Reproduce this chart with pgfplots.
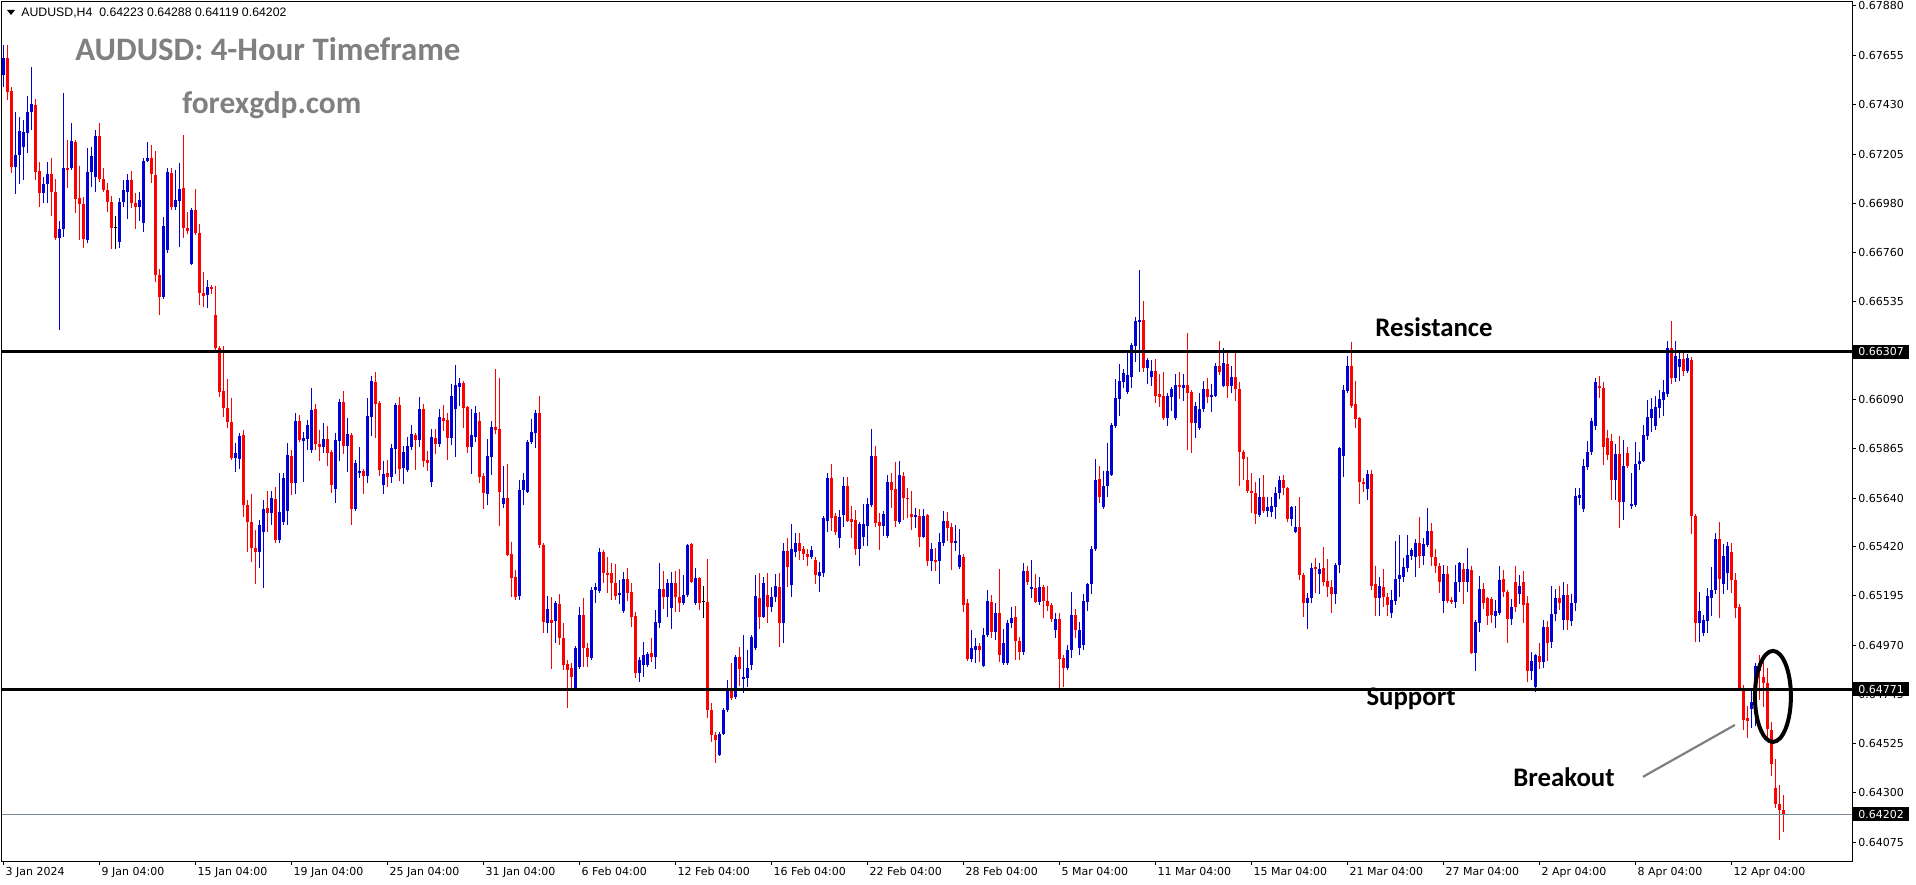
\documentclass[border=0pt]{standalone}
\usepackage{pgfplots}
\pgfplotsset{compat=1.18}
\usepackage{pgfplotstable}
\usepackage{fontspec}
\setmainfont{Liberation Sans}
\newfontfamily\mtfont{DejaVu Sans}
\newfontfamily\calfont{Carlito}
\definecolor{cBlue}{RGB}{0,0,215}
\definecolor{cRed}{RGB}{255,0,0}
\definecolor{tGray}{RGB}{128,128,128}
\definecolor{pGray}{RGB}{125,138,150}

\pgfplotstableread{
i o h l c
0 0.67566 0.67702 0.67511 0.67644
3 0.67147 0.67398 0.67025 0.67202
4 0.67202 0.67375 0.67070 0.67311
5 0.67238 0.67361 0.67088 0.67307
6 0.67302 0.67471 0.67211 0.67398
7 0.67398 0.67602 0.67316 0.67434
10 0.67029 0.67102 0.66983 0.67070
11 0.67070 0.67170 0.66983 0.67116
14 0.66824 0.66902 0.66406 0.66865
15 0.66865 0.67484 0.66829 0.67143
17 0.67143 0.67347 0.67134 0.67265
21 0.66815 0.67234 0.66801 0.67125
22 0.67125 0.67238 0.67056 0.67197
23 0.67102 0.67316 0.67034 0.67288
29 0.66806 0.67007 0.66779 0.66988
30 0.66988 0.67088 0.66965 0.67043
31 0.67034 0.67116 0.66911 0.67088
34 0.66965 0.67034 0.66902 0.66997
35 0.66892 0.67188 0.66852 0.67174
36 0.67174 0.67261 0.67170 0.67188
40 0.66556 0.66920 0.66547 0.66879
41 0.66770 0.67143 0.66756 0.67125
43 0.66965 0.67134 0.66952 0.66997
44 0.66992 0.67165 0.66783 0.67047
47 0.66706 0.66961 0.66701 0.66952
51 0.66565 0.66633 0.66506 0.66601
58 0.65823 0.65891 0.65760 0.65846
59 0.65819 0.65937 0.65773 0.65923
64 0.65396 0.65541 0.65323 0.65518
65 0.65487 0.65632 0.65232 0.65591
67 0.65573 0.65673 0.65518 0.65641
69 0.65450 0.65755 0.65436 0.65578
70 0.65532 0.65755 0.65518 0.65732
71 0.65582 0.65891 0.65518 0.65837
73 0.65710 0.66028 0.65660 0.65991
75 0.65900 0.65942 0.65714 0.65915
76 0.65910 0.65996 0.65860 0.65973
77 0.65860 0.66142 0.65846 0.66042
80 0.65873 0.65982 0.65846 0.65910
83 0.65682 0.65937 0.65618 0.65905
84 0.65900 0.66092 0.65809 0.66078
86 0.65878 0.66005 0.65760 0.65933
88 0.65591 0.65814 0.65582 0.65800
89 0.65755 0.65873 0.65732 0.65764
91 0.65741 0.66096 0.65710 0.66015
92 0.66010 0.66197 0.65924 0.66173
95 0.65700 0.65809 0.65660 0.65751
97 0.65737 0.65887 0.65709 0.65869
98 0.65864 0.66073 0.65751 0.66064
100 0.65778 0.65878 0.65705 0.65851
101 0.65769 0.65919 0.65760 0.65878
102 0.65873 0.65973 0.65860 0.65933
104 0.65905 0.66101 0.65873 0.66046
107 0.65714 0.65955 0.65691 0.65919
109 0.65887 0.66046 0.65873 0.66010
112 0.65915 0.66160 0.65882 0.66106
113 0.66046 0.66246 0.65828 0.66155
114 0.66146 0.66187 0.66060 0.66164
117 0.65873 0.66046 0.65751 0.65928
118 0.65919 0.66060 0.65896 0.66028
121 0.65660 0.65910 0.65609 0.65833
122 0.65828 0.65991 0.65746 0.65964
125 0.65614 0.65787 0.65596 0.65641
129 0.65196 0.65723 0.65177 0.65678
130 0.65678 0.65755 0.65609 0.65723
131 0.65669 0.65905 0.65664 0.65896
132 0.65896 0.66001 0.65887 0.65942
133 0.65937 0.66042 0.65869 0.66028
136 0.65072 0.65196 0.65027 0.65136
138 0.65081 0.65173 0.64981 0.65163
143 0.64777 0.64968 0.64768 0.64959
144 0.64872 0.65145 0.64863 0.65109
147 0.64913 0.65236 0.64904 0.65223
148 0.65223 0.65254 0.65163 0.65236
149 0.65218 0.65414 0.65209 0.65396
154 0.65200 0.65268 0.65159 0.65209
155 0.65127 0.65305 0.65118 0.65273
159 0.64845 0.64918 0.64804 0.64904
160 0.64881 0.64986 0.64827 0.64927
161 0.64881 0.64941 0.64872 0.64932
163 0.64918 0.65132 0.64863 0.65077
164 0.65072 0.65345 0.65050 0.65227
166 0.65191 0.65273 0.65100 0.65254
167 0.65141 0.65305 0.65045 0.65254
170 0.65163 0.65291 0.65154 0.65200
171 0.65200 0.65432 0.65191 0.65428
173 0.65163 0.65323 0.65154 0.65278
179 0.64472 0.64577 0.64467 0.64568
180 0.64568 0.64686 0.64563 0.64677
181 0.64677 0.64813 0.64668 0.64768
183 0.64736 0.64927 0.64727 0.64918
185 0.64818 0.65018 0.64754 0.64827
186 0.64823 0.64950 0.64781 0.64868
187 0.64881 0.65018 0.64859 0.65009
188 0.64959 0.65291 0.64950 0.65196
190 0.65100 0.65282 0.65095 0.65254
192 0.65145 0.65236 0.65123 0.65191
193 0.65191 0.65296 0.65168 0.65241
195 0.65072 0.65436 0.64981 0.65400
197 0.65245 0.65523 0.65191 0.65409
198 0.65396 0.65482 0.65373 0.65436
202 0.65373 0.65423 0.65364 0.65405
204 0.65287 0.65350 0.65214 0.65305
205 0.65300 0.65559 0.65282 0.65550
206 0.65536 0.65755 0.65487 0.65732
209 0.65459 0.65587 0.65414 0.65555
210 0.65564 0.65737 0.65509 0.65696
214 0.65409 0.65532 0.65332 0.65523
215 0.65464 0.65614 0.65423 0.65523
216 0.65514 0.65641 0.65423 0.65614
217 0.65609 0.65955 0.65600 0.65833
220 0.65514 0.65582 0.65469 0.65569
221 0.65469 0.65746 0.65460 0.65714
224 0.65532 0.65809 0.65523 0.65746
228 0.65555 0.65596 0.65505 0.65564
230 0.65464 0.65591 0.65460 0.65559
232 0.65355 0.65436 0.65309 0.65409
234 0.65355 0.65482 0.65250 0.65441
235 0.65436 0.65582 0.65423 0.65536
238 0.65436 0.65518 0.65400 0.65445
239 0.65327 0.65500 0.65318 0.65382
242 0.64909 0.65041 0.64895 0.64959
243 0.64950 0.65004 0.64890 0.64968
245 0.64877 0.65050 0.64872 0.65018
246 0.65018 0.65223 0.65009 0.65172
248 0.65032 0.65163 0.64995 0.65118
250 0.64890 0.65045 0.64881 0.64981
251 0.64890 0.65086 0.64881 0.65072
252 0.65072 0.65145 0.65050 0.65095
255 0.64941 0.65345 0.64927 0.65309
257 0.65227 0.65359 0.65186 0.65236
259 0.65168 0.65282 0.65154 0.65236
263 0.65041 0.65118 0.65004 0.65091
266 0.64868 0.64972 0.64859 0.64950
267 0.64950 0.65214 0.64913 0.65109
269 0.64959 0.65077 0.64927 0.65041
270 0.64972 0.65205 0.64950 0.65172
271 0.65168 0.65254 0.65127 0.65250
272 0.65250 0.65423 0.65205 0.65409
273 0.65409 0.65819 0.65400 0.65723
275 0.65600 0.65764 0.65591 0.65696
276 0.65696 0.65891 0.65646 0.65764
277 0.65746 0.65982 0.65742 0.65973
278 0.65969 0.66183 0.65960 0.66096
279 0.66092 0.66251 0.66015 0.66173
280 0.66169 0.66228 0.66142 0.66210
281 0.66124 0.66301 0.66115 0.66201
282 0.66192 0.66346 0.66142 0.66337
283 0.66333 0.66465 0.66260 0.66446
284 0.66442 0.66679 0.66215 0.66451
286 0.66233 0.66278 0.66160 0.66269
287 0.66192 0.66269 0.66151 0.66219
291 0.66005 0.66119 0.65969 0.66106
292 0.66101 0.66146 0.66037 0.66137
293 0.66005 0.66206 0.65996 0.66155
295 0.66142 0.66206 0.66083 0.66155
298 0.65982 0.66078 0.65915 0.66060
299 0.65960 0.66119 0.65951 0.66046
300 0.66046 0.66173 0.66033 0.66137
302 0.66101 0.66160 0.66033 0.66110
303 0.66106 0.66255 0.66101 0.66242
305 0.66151 0.66324 0.66146 0.66255
307 0.66151 0.66242 0.66119 0.66192
314 0.65564 0.65732 0.65555 0.65646
316 0.65582 0.65646 0.65555 0.65600
317 0.65578 0.65646 0.65555 0.65605
318 0.65600 0.65691 0.65546 0.65664
319 0.65664 0.65742 0.65637 0.65723
322 0.65546 0.65605 0.65514 0.65600
323 0.65487 0.65605 0.65482 0.65509
326 0.65163 0.65209 0.65045 0.65186
327 0.65186 0.65345 0.65163 0.65323
329 0.65296 0.65345 0.65205 0.65318
333 0.65205 0.65345 0.65159 0.65336
334 0.65336 0.65873 0.65300 0.65869
335 0.65833 0.66155 0.65737 0.66133
336 0.66128 0.66287 0.66119 0.66242
341 0.65682 0.65769 0.65632 0.65751
344 0.65186 0.65282 0.65104 0.65241
347 0.65118 0.65223 0.65095 0.65177
348 0.65172 0.65445 0.65154 0.65273
349 0.65273 0.65473 0.65191 0.65291
350 0.65282 0.65368 0.65259 0.65327
351 0.65323 0.65473 0.65305 0.65382
352 0.65377 0.65414 0.65359 0.65405
353 0.65373 0.65455 0.65282 0.65436
355 0.65377 0.65459 0.65336 0.65432
356 0.65427 0.65596 0.65418 0.65491
360 0.65172 0.65336 0.65118 0.65296
363 0.65168 0.65336 0.65141 0.65259
364 0.65259 0.65350 0.65214 0.65345
366 0.65259 0.65414 0.65214 0.65318
368 0.64936 0.65086 0.64854 0.65077
369 0.65072 0.65287 0.65032 0.65227
373 0.65104 0.65177 0.65050 0.65127
374 0.65118 0.65332 0.65109 0.65268
377 0.65091 0.65182 0.65063 0.65145
379 0.65205 0.65291 0.65159 0.65241
382 0.64854 0.64941 0.64813 0.64899
383 0.64781 0.64931 0.64759 0.64927
385 0.64895 0.65086 0.64868 0.65054
387 0.64986 0.65241 0.64959 0.65114
388 0.65114 0.65227 0.65081 0.65186
390 0.65086 0.65259 0.65041 0.65200
392 0.65081 0.65205 0.65059 0.65163
393 0.65163 0.65687 0.65127 0.65650
394 0.65641 0.65687 0.65609 0.65655
395 0.65591 0.65819 0.65578 0.65787
396 0.65782 0.65900 0.65769 0.65851
397 0.65851 0.66005 0.65837 0.65991
398 0.65969 0.66187 0.65951 0.66169
403 0.65723 0.65887 0.65632 0.65842
405 0.65623 0.65905 0.65541 0.65787
407 0.65605 0.65755 0.65591 0.65614
408 0.65609 0.65896 0.65600 0.65796
409 0.65796 0.65851 0.65769 0.65809
410 0.65809 0.65973 0.65805 0.65928
411 0.65924 0.66087 0.65905 0.66010
412 0.66005 0.66096 0.65942 0.66046
413 0.65969 0.66106 0.65951 0.66055
414 0.66051 0.66133 0.66005 0.66092
415 0.66087 0.66178 0.66015 0.66124
416 0.66115 0.66356 0.66101 0.66324
418 0.66187 0.66356 0.66169 0.66288
419 0.66238 0.66306 0.66173 0.66274
421 0.66219 0.66297 0.66210 0.66278
424 0.65072 0.65214 0.64986 0.65127
425 0.65027 0.65109 0.65013 0.65086
426 0.65081 0.65232 0.65027 0.65196
427 0.65186 0.65327 0.65104 0.65223
428 0.65223 0.65482 0.65205 0.65455
430 0.65250 0.65432 0.65205 0.65377
431 0.65300 0.65441 0.65223 0.65423
437 0.64681 0.64768 0.64595 0.64713
438 0.64681 0.64890 0.64604 0.64877
}\upbars

\pgfplotstableread{
i o h l c
1 0.67644 0.67702 0.67452 0.67489
2 0.67493 0.67511 0.67120 0.67147
8 0.67429 0.67457 0.67088 0.67125
9 0.67129 0.67170 0.66965 0.67029
12 0.67116 0.67188 0.66924 0.67034
13 0.67034 0.67093 0.66815 0.66824
16 0.67143 0.67270 0.67052 0.67134
18 0.67261 0.67270 0.66938 0.67002
19 0.67007 0.67152 0.66815 0.66979
20 0.66979 0.67011 0.66779 0.66820
24 0.67288 0.67347 0.67079 0.67093
25 0.67093 0.67143 0.67034 0.67043
26 0.67043 0.67074 0.66943 0.66988
27 0.66988 0.67016 0.66774 0.66870
32 0.67088 0.67129 0.66961 0.66983
33 0.66983 0.67029 0.66865 0.66965
37 0.67188 0.67247 0.67074 0.67116
38 0.67111 0.67220 0.66624 0.66656
39 0.66656 0.66683 0.66474 0.66556
42 0.67120 0.67143 0.66952 0.66965
45 0.67052 0.67293 0.66824 0.66870
46 0.66870 0.66943 0.66843 0.66856
48 0.66952 0.67047 0.66838 0.66847
49 0.66847 0.66888 0.66519 0.66574
50 0.66574 0.66670 0.66510 0.66561
52 0.66601 0.66610 0.66570 0.66592
53 0.66474 0.66606 0.66315 0.66324
54 0.66324 0.66333 0.66101 0.66124
55 0.66128 0.66333 0.66010 0.66051
56 0.66051 0.66183 0.65960 0.65987
57 0.65987 0.66096 0.65814 0.65823
60 0.65928 0.65951 0.65555 0.65609
61 0.65609 0.65632 0.65396 0.65532
62 0.65532 0.65660 0.65350 0.65414
63 0.65414 0.65496 0.65250 0.65396
66 0.65596 0.65673 0.65487 0.65573
68 0.65637 0.65691 0.65436 0.65450
72 0.65833 0.65860 0.65655 0.65710
74 0.65991 0.66019 0.65896 0.65905
78 0.66046 0.66069 0.65860 0.65887
79 0.65887 0.65951 0.65809 0.65873
81 0.65910 0.65969 0.65787 0.65846
82 0.65851 0.65860 0.65664 0.65700
85 0.66078 0.66128 0.65842 0.65878
87 0.65928 0.65937 0.65518 0.65591
90 0.65764 0.65773 0.65660 0.65741
93 0.66169 0.66215 0.65915 0.66069
94 0.66073 0.66083 0.65742 0.65769
96 0.65755 0.65814 0.65691 0.65737
99 0.66064 0.66101 0.65718 0.65773
103 0.65928 0.65937 0.65769 0.65905
105 0.66046 0.66069 0.65782 0.65809
106 0.65814 0.65855 0.65764 0.65800
108 0.65915 0.65955 0.65842 0.65887
110 0.66005 0.66064 0.65946 0.65991
111 0.65996 0.66028 0.65814 0.65915
115 0.66164 0.66173 0.65960 0.66051
116 0.66055 0.66060 0.65846 0.65873
119 0.65991 0.66033 0.65709 0.65737
120 0.65742 0.65755 0.65591 0.65664
123 0.65964 0.66228 0.65933 0.65951
124 0.65955 0.66187 0.65514 0.65669
126 0.65641 0.65796 0.65378 0.65382
127 0.65387 0.65441 0.65191 0.65277
128 0.65282 0.65314 0.65177 0.65191
134 0.66028 0.66106 0.65414 0.65428
135 0.65428 0.65437 0.65027 0.65077
137 0.65086 0.65191 0.64863 0.65072
139 0.65159 0.65205 0.64972 0.65004
140 0.65004 0.65072 0.64859 0.64881
141 0.64886 0.64904 0.64686 0.64859
142 0.64868 0.64890 0.64777 0.64827
145 0.65109 0.65186 0.64872 0.64959
146 0.64959 0.64981 0.64872 0.64918
150 0.65396 0.65405 0.65254 0.65300
151 0.65300 0.65373 0.65209 0.65291
152 0.65300 0.65345 0.65177 0.65254
153 0.65254 0.65341 0.65177 0.65196
156 0.65273 0.65323 0.65172 0.65209
157 0.65214 0.65254 0.65054 0.65100
158 0.65104 0.65123 0.64822 0.64845
162 0.64936 0.65004 0.64895 0.64918
165 0.65227 0.65309 0.65136 0.65191
168 0.65254 0.65309 0.65123 0.65191
169 0.65191 0.65318 0.65123 0.65163
172 0.65432 0.65437 0.65254 0.65259
174 0.65278 0.65282 0.65132 0.65163
176 0.65168 0.65364 0.64640 0.64677
177 0.64677 0.64708 0.64531 0.64563
178 0.64563 0.64577 0.64435 0.64540
182 0.64768 0.64890 0.64722 0.64731
184 0.64918 0.64963 0.64786 0.64863
189 0.65186 0.65300 0.65045 0.65100
191 0.65200 0.65300 0.65072 0.65145
194 0.65236 0.65300 0.64963 0.65072
196 0.65400 0.65459 0.65236 0.65327
199 0.65436 0.65482 0.65359 0.65400
200 0.65409 0.65423 0.65359 0.65387
201 0.65387 0.65409 0.65332 0.65373
203 0.65359 0.65373 0.65250 0.65291
207 0.65732 0.65796 0.65491 0.65550
208 0.65559 0.65573 0.65473 0.65487
211 0.65696 0.65737 0.65532 0.65536
212 0.65546 0.65605 0.65459 0.65532
213 0.65541 0.65587 0.65382 0.65409
218 0.65833 0.65878 0.65509 0.65527
219 0.65532 0.65573 0.65405 0.65514
222 0.65714 0.65755 0.65596 0.65678
223 0.65682 0.65805 0.65509 0.65536
225 0.65742 0.65760 0.65541 0.65641
226 0.65641 0.65687 0.65550 0.65637
227 0.65569 0.65673 0.65496 0.65555
229 0.65559 0.65591 0.65418 0.65464
231 0.65564 0.65569 0.65332 0.65355
233 0.65359 0.65414 0.65309 0.65350
236 0.65536 0.65578 0.65445 0.65505
237 0.65509 0.65527 0.65314 0.65436
240 0.65373 0.65387 0.65123 0.65154
241 0.65163 0.65182 0.64899 0.64909
244 0.64968 0.64981 0.64895 0.64950
247 0.65168 0.65200 0.65004 0.65032
249 0.65118 0.65318 0.64895 0.64927
253 0.65100 0.65150 0.64904 0.64990
254 0.64990 0.65009 0.64904 0.64941
256 0.65309 0.65332 0.65245 0.65259
258 0.65232 0.65296 0.65163 0.65168
260 0.65236 0.65245 0.65095 0.65172
261 0.65172 0.65241 0.65127 0.65150
262 0.65154 0.65163 0.65077 0.65091
264 0.65091 0.65118 0.64777 0.64909
265 0.64913 0.64927 0.64781 0.64868
268 0.65109 0.65136 0.65004 0.65041
274 0.65728 0.65787 0.65618 0.65646
285 0.66451 0.66537 0.66215 0.66233
288 0.66219 0.66274 0.66073 0.66106
289 0.66115 0.66206 0.66055 0.66101
290 0.66106 0.66215 0.65996 0.66005
294 0.66155 0.66215 0.66092 0.66146
296 0.66155 0.66392 0.65860 0.66119
297 0.66124 0.66133 0.65846 0.65982
301 0.66137 0.66187 0.66073 0.66101
304 0.66242 0.66356 0.66201 0.66215
306 0.66251 0.66306 0.66096 0.66151
308 0.66192 0.66315 0.66083 0.66137
309 0.66137 0.66169 0.65696 0.65851
310 0.65851 0.65860 0.65723 0.65819
311 0.65723 0.65828 0.65664 0.65673
312 0.65673 0.65755 0.65573 0.65664
313 0.65664 0.65714 0.65523 0.65569
315 0.65646 0.65746 0.65573 0.65582
320 0.65723 0.65746 0.65655 0.65687
321 0.65687 0.65691 0.65532 0.65546
324 0.65509 0.65646 0.65268 0.65291
325 0.65291 0.65300 0.65100 0.65163
328 0.65327 0.65368 0.65209 0.65318
330 0.65323 0.65418 0.65241 0.65259
331 0.65264 0.65364 0.65191 0.65236
332 0.65236 0.65268 0.65118 0.65205
337 0.66242 0.66351 0.66051 0.66060
338 0.66069 0.66173 0.65960 0.66001
339 0.66005 0.66010 0.65614 0.65714
340 0.65714 0.65732 0.65669 0.65705
342 0.65751 0.65769 0.65223 0.65241
343 0.65250 0.65332 0.65104 0.65186
345 0.65236 0.65318 0.65145 0.65191
346 0.65191 0.65209 0.65104 0.65154
354 0.65436 0.65555 0.65323 0.65377
357 0.65491 0.65527 0.65332 0.65373
358 0.65373 0.65409 0.65300 0.65332
359 0.65332 0.65345 0.65209 0.65259
361 0.65296 0.65332 0.65163 0.65172
362 0.65177 0.65191 0.65159 0.65168
365 0.65318 0.65345 0.65159 0.65259
367 0.65314 0.65332 0.64932 0.64936
370 0.65227 0.65254 0.65136 0.65163
371 0.65186 0.65191 0.65063 0.65104
372 0.65182 0.65191 0.65072 0.65109
375 0.65273 0.65314 0.65191 0.65214
376 0.65214 0.65223 0.64981 0.65091
378 0.65259 0.65332 0.65123 0.65145
380 0.65259 0.65309 0.65072 0.65154
381 0.65163 0.65196 0.64804 0.64854
384 0.64922 0.64981 0.64863 0.64895
386 0.65054 0.65081 0.64899 0.64981
389 0.65186 0.65241 0.65132 0.65163
391 0.65200 0.65250 0.65041 0.65086
399 0.66151 0.66197 0.66096 0.66142
400 0.66142 0.66169 0.65791 0.65873
401 0.65915 0.65951 0.65814 0.65837
402 0.65900 0.65933 0.65632 0.65723
404 0.65842 0.65924 0.65505 0.65623
406 0.65846 0.65873 0.65778 0.65787
417 0.66324 0.66446 0.66160 0.66187
420 0.66274 0.66301 0.66197 0.66219
422 0.66269 0.66283 0.65478 0.65559
423 0.65559 0.65569 0.64986 0.65072
429 0.65455 0.65532 0.65095 0.65273
432 0.65396 0.65436 0.65209 0.65268
433 0.65268 0.65300 0.65095 0.65141
434 0.65145 0.65159 0.64768 0.64777
435 0.64777 0.64790 0.64586 0.64631
436 0.64640 0.64695 0.64549 0.64627
439 0.64877 0.64927 0.64722 0.64854
440 0.64827 0.64904 0.64690 0.64799
441 0.64799 0.64868 0.64540 0.64590
442 0.64586 0.64622 0.64377 0.64431
443 0.64322 0.64454 0.64231 0.64249
444 0.64249 0.64336 0.64085 0.64222
445 0.64223 0.64288 0.64119 0.64202
}\downbars

\pgfplotstableread{
i o h l c
28 0.66870 0.66924 0.66774 0.66870
175 0.65168 0.65241 0.65095 0.65168
}\dojibars

\newcommand{\mtsize}{\mtfont\fontsize{5.5pt}{6pt}\selectfont}

\begin{document}
\begin{tikzpicture}
\useasboundingbox (0,0) rectangle (958pt,442pt);
\fill[white] (0,0) rectangle (958pt,442pt);
\begin{axis}[
  at={(1pt,11.5pt)}, anchor=south west, scale only axis,
  width=925pt, height=429.5pt,
  xmin=-0.325, xmax=462.175, ymin=0.63989, ymax=0.67898,
  clip mode=individual,
  axis line style={line width=0.5pt, black},
  scaled y ticks=false, scaled x ticks=false,
  candle/.style={only marks, mark=*, mark size=0pt, mark options={draw=none, fill=none}},
  xtick={0,24,48,72,96,120,144,168,192,216,240,264,288,312,336,360,384,408,432},
  xticklabels={3 Jan 2024, 9 Jan 04:00, 15 Jan 04:00, 19 Jan 04:00, 25 Jan 04:00, 31 Jan 04:00, 6 Feb 04:00, 12 Feb 04:00, 16 Feb 04:00, 22 Feb 04:00, 28 Feb 04:00, 5 Mar 04:00, 11 Mar 04:00, 15 Mar 04:00, 21 Mar 04:00, 27 Mar 04:00, 2 Apr 04:00, 8 Apr 04:00, 12 Apr 04:00},
  ytick={0.67880,0.67655,0.67430,0.67205,0.66980,0.66760,0.66535,0.66310,0.66090,0.65865,0.65640,0.65420,0.65195,0.64970,0.64745,0.64525,0.64300,0.64075},
  yticklabels={0.67880,0.67655,0.67430,0.67205,0.66980,0.66760,0.66535,0.66310,0.66090,0.65865,0.65640,0.65420,0.65195,0.64970,0.64745,0.64525,0.64300,0.64075},
  ytick pos=right, yticklabel pos=right, xtick pos=bottom,
  tick align=outside, major tick length=2pt,
  tick style={black, line width=0.5pt},
  xticklabel style={font=\mtsize, anchor=north west, inner sep=0pt, xshift=1pt, yshift=-1pt},
  yticklabel style={font=\mtsize, anchor=west, inner sep=0pt, xshift=1pt},
]
% wicks
\addplot[candle, error bars/.cd, y dir=plus, y explicit, error mark=none,
  error bar style={line width=0.5pt, draw=cBlue}]
  table[x=i, y=l, y error plus expr=\thisrow{h}-\thisrow{l}] {\upbars};
\addplot[candle, error bars/.cd, y dir=plus, y explicit, error mark=none,
  error bar style={line width=0.5pt, draw=cRed}]
  table[x=i, y=l, y error plus expr=\thisrow{h}-\thisrow{l}] {\downbars};
\addplot[candle, error bars/.cd, y dir=plus, y explicit, error mark=none,
  error bar style={line width=0.5pt, draw=black}]
  table[x=i, y=l, y error plus expr=\thisrow{h}-\thisrow{l}] {\dojibars};
% bodies
\addplot[candle, error bars/.cd, y dir=plus, y explicit, error mark=none,
  error bar style={line width=1.5pt, draw=cBlue}]
  table[x=i, y=o, y error plus expr=\thisrow{c}-\thisrow{o}] {\upbars};
\addplot[candle, error bars/.cd, y dir=plus, y explicit, error mark=none,
  error bar style={line width=1.5pt, draw=cRed}]
  table[x=i, y=c, y error plus expr=\thisrow{o}-\thisrow{c}] {\downbars};
\addplot[only marks, mark=-, mark size=0.75pt, mark options={black, line width=0.5pt}]
  table[x=i, y=o] {\dojibars};

% resistance / support / current price
\draw[line width=1.4pt, black] (axis cs:-0.325,0.66307) -- (axis cs:462.175,0.66307);
\draw[line width=1.4pt, black] (axis cs:-0.325,0.64771) -- (axis cs:462.175,0.64771);
\draw[line width=0.5pt, pGray] (axis cs:-0.325,0.64202) -- (axis cs:462.175,0.64202);

% breakout ellipse and pointer
\draw[line width=2pt, black] (axis cs:442.4,0.64738) ellipse [x radius=9pt, y radius=22.75pt];
\draw[line width=1.1pt, tGray] (axis cs:409.9,0.64372) -- (axis cs:432.9,0.64608);

% price boxes
\node[fill=black, text=white, font=\mtsize, anchor=west, inner xsep=2.5pt, inner ysep=1.5pt, text height=4pt, text depth=0pt, xshift=0.5pt] at (axis cs:462.175,0.66307) {0.66307};
\node[fill=black, text=white, font=\mtsize, anchor=west, inner xsep=2.5pt, inner ysep=1.5pt, text height=4pt, text depth=0pt, xshift=0.5pt] at (axis cs:462.175,0.64771) {0.64771};
\node[fill=black, text=white, font=\mtsize, anchor=west, inner xsep=2.5pt, inner ysep=1.5pt, text height=4pt, text depth=0pt, xshift=0.5pt] at (axis cs:462.175,0.64202) {0.64202};
\end{axis}

% header
\fill[black] (3.5pt,437pt) -- (7.5pt,437pt) -- (5.5pt,434.5pt) -- cycle;
\node[anchor=base west, inner sep=0pt, font=\fontsize{6.15pt}{7pt}\selectfont] at (10.5pt,433.5pt) {AUDUSD,H4\ \ 0.64223 0.64288 0.64119 0.64202};

% watermark titles
\node[anchor=base west, inner sep=0pt, text=tGray, font=\calfont\bfseries\fontsize{16.4pt}{18pt}\selectfont] at (37.5pt,411.5pt) {AUDUSD: 4-Hour Timeframe};
\node[anchor=base west, inner sep=0pt, text=tGray, font=\calfont\bfseries\fontsize{15.7pt}{18pt}\selectfont] at (91pt,385pt) {forexgdp.com};

% annotations
\node[anchor=base, inner sep=0pt, font=\calfont\bfseries\fontsize{13.4pt}{15pt}\selectfont] at (717pt,273.5pt) {Resistance};
\node[anchor=base, inner sep=0pt, font=\calfont\bfseries\fontsize{13.4pt}{15pt}\selectfont] at (705.5pt,89.5pt) {Support};
\node[anchor=base, inner sep=0pt, font=\calfont\bfseries\fontsize{13.4pt}{15pt}\selectfont] at (782pt,49pt) {Breakout};
\end{tikzpicture}
\end{document}
